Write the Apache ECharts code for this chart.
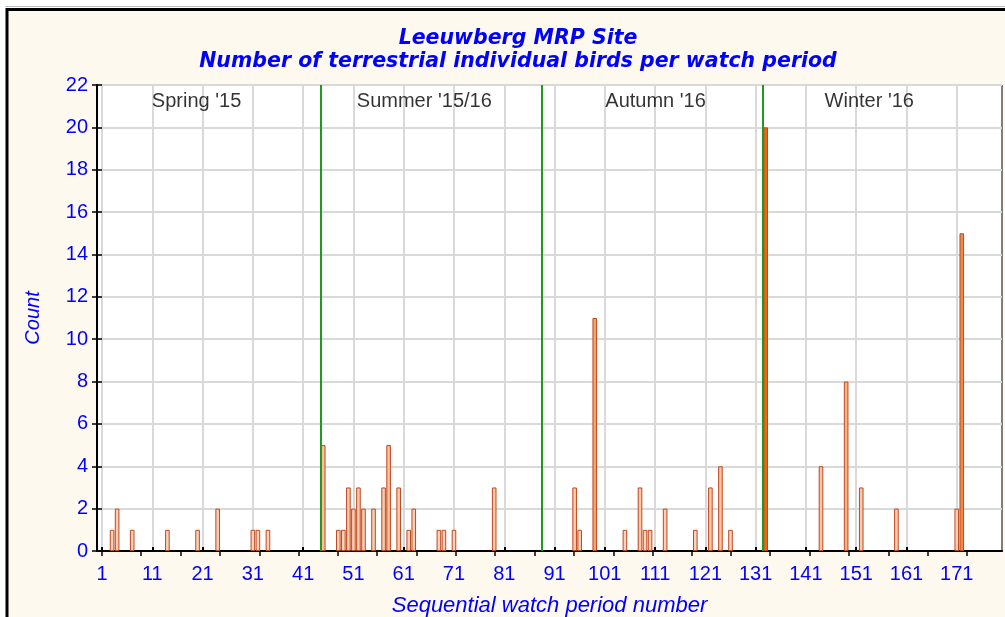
<!DOCTYPE html>
<html>
<head>
<meta charset="utf-8">
<script src="https://cdn.jsdelivr.net/npm/echarts@6/dist/echarts.min.js"></script>
<style>
html, body { margin: 0; padding: 0; background: #fff; }
#chart { width: 1005px; height: 617px; }
</style>
</head>
<body>
<div id="chart"></div>
<script>
var periods = [3, 4, 7, 14, 20, 24, 31, 32, 34, 45, 48, 49, 50, 51, 52, 53, 55, 57, 58, 60, 62, 63, 68, 69, 71, 79,
    95, 96, 99, 105, 108, 109, 110, 113, 119, 122, 124, 126, 133, 144, 149, 152, 159, 171, 172];
var counts = [1, 2, 1, 1, 1, 2, 1, 1, 1, 5, 1, 1, 3, 2, 3, 2, 2, 3, 5, 3, 1, 2, 1, 1, 1, 3,
    3, 1, 11, 1, 3, 1, 1, 2, 1, 3, 4, 1, 20, 4, 8, 3, 2, 2, 15];
var xTicks = [1, 11, 21, 31, 41, 51, 61, 71, 81, 91, 101, 111, 121, 131, 141, 151, 161, 171];
var topTicks = [1, 8.8, 16.6, 24.5, 32.3, 40.1, 47.9, 55.7, 63.6, 71.4, 79.2, 87.0, 94.8, 102.7,
    110.5, 118.3, 126.1, 133.9, 141.8, 149.6, 157.4, 165.2, 173.0];
var seasonBreaks = [44.5, 88.5, 132.5];
var seasonNames = ["Spring '15", "Summer '15/16", "Autumn '16", "Winter '16"];
var seasonX = [19.8, 65.1, 111.1, 153.6];
var seasonY = 21.2;

var FONT = '"Liberation Sans", Arial, sans-serif';
var BLUE = '#0000ff';

var myChart = echarts.init(document.getElementById('chart'));

var barData = periods.map(function(p, i) {
    return [p, counts[i]];
});
var seasonData = seasonNames.map(function(n, i) {
    return { name: n, value: [seasonX[i], seasonY] };
});

myChart.setOption({
    backgroundColor: '#fff',
    animation: false,
    graphic: [{
        type: 'rect',
        shape: { x: 7, y: 9.5, width: 1020, height: 640 },
        style: { fill: '#fdf9ee', stroke: '#000', lineWidth: 3 },
        z: -10
    }, {
        type: 'line',
        shape: { x1: 5, y1: 6.5, x2: 1005, y2: 6.5 },
        style: { stroke: '#bbb', lineWidth: 1 },
        z: -10
    }],
    title: {
        text: 'Leeuwberg MRP Site\nNumber of terrestrial individual birds per watch period',
        left: 513,
        textAlign: 'center',
        top: 22,
        textStyle: {
            color: BLUE,
            fontFamily: '"DejaVu Sans", sans-serif',
            fontSize: 20.5,
            fontWeight: 'bold',
            fontStyle: 'italic',
            lineHeight: 23
        }
    },
    grid: {
        left: 97,
        right: 3,
        top: 85,
        bottom: 66,
        outerBoundsMode: 'none',
        containLabel: false,
        show: true,
        backgroundColor: '#fff',
        borderColor: '#000',
        borderWidth: 1
    },
    visualMap: {
        show: false,
        type: 'continuous',
        seriesIndex: 0,
        dimension: 1,
        min: 0,
        max: 20,
        inRange: { color: ['#f8d9c4', '#f1ab7c', '#e66a1a'] }
    },
    xAxis: [{
        type: 'value',
        min: 0,
        max: 180,
        position: 'bottom',
        name: 'Sequential watch period number',
        nameLocation: 'middle',
        nameGap: 44,
        nameTextStyle: { color: BLUE, fontFamily: FONT, fontSize: 22, fontStyle: 'italic' },
        axisLine: { show: true, lineStyle: { color: '#000', width: 2 } },
        axisTick: { show: true, inside: true, length: 4, customValues: xTicks, lineStyle: { color: '#000', width: 2 } },
        axisLabel: { customValues: xTicks, color: BLUE, fontFamily: FONT, fontSize: 20, margin: 13 },
        splitLine: { show: true, lineStyle: { color: '#d9d9d9', width: 2 } }
    }, {
        type: 'value',
        min: 0,
        max: 180,
        position: 'top',
        axisLine: { show: true, lineStyle: { color: '#000', width: 1.5 } },
        axisTick: { show: true, inside: true, length: 5, customValues: topTicks, lineStyle: { color: '#000', width: 1.5 } },
        axisLabel: { show: false },
        splitLine: { show: false }
    }],
    yAxis: [{
        type: 'value',
        min: 0,
        max: 22,
        interval: 2,
        name: 'Count',
        nameLocation: 'middle',
        nameGap: 54,
        nameTextStyle: { color: BLUE, fontFamily: FONT, fontSize: 20, fontStyle: 'italic' },
        axisLine: { show: true, lineStyle: { color: '#000', width: 2 } },
        axisTick: { show: true, inside: true, length: 5, lineStyle: { color: '#000', width: 1.5 } },
        axisLabel: { color: BLUE, fontFamily: FONT, fontSize: 20, margin: 9 },
        splitLine: { show: true, lineStyle: { color: '#d9d9d9', width: 2 } }
    }, {
        type: 'value',
        min: 0,
        max: 22,
        interval: 2,
        position: 'right',
        axisLine: { show: true, lineStyle: { color: '#000', width: 2 } },
        axisTick: { show: true, inside: true, length: 5, lineStyle: { color: '#000', width: 1.5 } },
        axisLabel: { show: false },
        splitLine: { show: false }
    }],
    series: [{
        type: 'bar',
        xAxisIndex: 0,
        yAxisIndex: 0,
        data: barData,
        barWidth: 4.6,
        itemStyle: { borderColor: '#c2461c', borderWidth: 1 },
        markLine: {
            silent: true,
            symbol: 'none',
            z: 1,
            label: { show: false },
            lineStyle: { color: '#1f9a1f', width: 2, type: 'solid' },
            data: seasonBreaks.map(function(b) { return { xAxis: b }; })
        },
        z: 3
    }, {
        type: 'scatter',
        xAxisIndex: 0,
        yAxisIndex: 0,
        symbolSize: 0,
        data: seasonData,
        label: {
            show: true,
            position: 'inside',
            formatter: '{b}',
            color: '#000',
            fontFamily: FONT,
            fontSize: 20
        },
        z: 4
    }]
});
</script>
</body>
</html>
